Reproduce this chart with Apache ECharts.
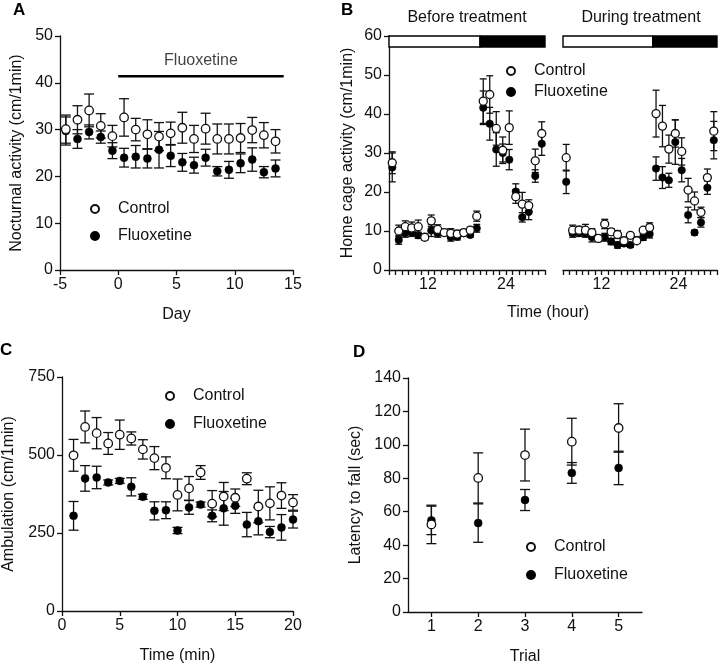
<!DOCTYPE html>
<html><head><meta charset="utf-8">
<script src="https://cdn.jsdelivr.net/npm/echarts@6/dist/echarts.min.js"></script>
<style>html,body{margin:0;padding:0;background:#fff}#c{width:720px;height:666px}</style>
</head><body><div id="c"></div>
<script>
// ---------- Panel A: nocturnal activity ----------
const aDays = [-4.5,-3.5,-2.5,-1.5,-0.5,0.5,1.5,2.5,3.5,4.5,5.5,6.5,7.5,8.5,9.5,10.5,11.5,12.5,13.5];
const aCtrl = [30.1,32.1,34.1,30.8,28.6,32.6,30.0,29.0,28.5,29.2,30.4,28.0,30.2,28.0,28.0,28.2,29.9,28.8,27.5];
const aCtrlErr = [3.0,3.0,3.5,2.6,2.3,4.0,2.4,3.1,3.0,2.4,3.3,2.9,3.3,3.2,3.2,3.1,2.7,2.7,2.5];
const aFlx = [29.7,28.0,29.5,28.4,25.5,24.0,24.2,23.8,25.7,24.4,23.0,22.4,24.0,21.1,21.4,22.8,23.6,20.9,21.7];
const aFlxErr = [3.0,2.0,1.5,1.3,1.7,2.0,2.4,2.0,3.9,2.3,1.9,1.7,1.8,1.0,1.8,2.0,2.5,1.2,1.8];
const aTreatDays = [0, 14.2];
const aTreatLevel = 41.4;
const aXTicks = {min:-5, max:15, step:5};
const aYTicks = {min:0, max:50, step:10};

// ---------- Panel B: home cage activity ----------
const bHours = [6.5,7.5,8.5,9.5,10.5,11.5,12.5,13.5,14.5,15.5,16.5,17.5,18.5,19.5,20.5,21.5,22.5,23.5,24.5,25.5,26.5,27.5,28.5,29.5];
const bPreCtrl = [27.5,10.0,11.1,10.8,11.1,8.4,12.6,10.4,9.6,9.4,9.2,9.6,10.2,13.8,43.3,45.0,36.3,30.7,36.5,18.8,16.9,16.5,28.0,35.0];
const bPreCtrlErr = [2.8,1.5,1.5,1.5,1.7,0.8,1.5,1.2,0.8,1.2,1.0,0.8,0.8,1.3,5.7,4.8,4.3,3.4,4.3,1.7,3.0,1.5,3.0,3.0];
const bPreFlx = [26.3,7.7,9.4,9.6,8.9,8.4,10.1,9.4,9.6,8.4,8.5,9.4,9.0,10.7,41.6,37.5,30.9,30.0,28.3,20.1,13.5,14.9,24.1,32.4];
const bPreFlxErr = [3.7,1.1,1.0,1.0,0.8,0.5,1.5,1.0,0.5,1.0,0.8,0.5,0.6,1.0,4.3,4.2,4.3,2.3,2.6,2.0,1.2,2.0,1.6,3.0];
const bDurCtrl = [28.8,10.2,10.2,10.2,9.6,8.1,11.8,9.8,9.1,7.5,8.9,7.5,10.2,10.9,40.1,36.9,31.0,35.0,30.4,20.5,17.7,14.8,23.7,35.6];
const bDurCtrlErr = [3.4,1.3,1.0,1.5,1.0,0.8,1.2,0.8,1.0,0.8,0.6,0.6,0.6,1.2,6.0,5.3,3.6,3.5,3.5,3.0,2.3,1.3,2.2,5.0];
const bDurFlx = [22.6,9.4,9.6,9.4,8.4,8.1,8.4,7.3,6.4,6.8,6.4,7.7,8.4,9.2,26.0,23.7,23.0,32.8,25.6,14.1,9.6,12.2,21.1,33.3];
const bDurFlxErr = [3.0,1.0,1.0,1.0,1.2,0.8,1.0,0.8,0.8,0.7,0.6,0.7,0.8,1.0,3.0,2.8,1.8,5.7,3.0,2.0,0.6,1.2,1.7,4.8];
const bPhaseStart = [6, 20];
const bPhaseEnd = [20, 30];
const bPhaseDark = [0, 1];
const bXTickLabels = [12, 24];
const bXRange = {min:6, max:30, step:1};
const bYTicks = {min:0, max:60, step:10};
const bTitles = ['Before treatment', 'During treatment'];

// ---------- Panel C: ambulation ----------
const cMin = [1,2,3,4,5,6,7,8,9,10,11,12,13,14,15,16,17,18,19,20];
const cCtrl = [499,590,570,537,565,553,518,490,459,372,393,444,344,367,363,424,335,345,370,348];
const cCtrlErr = [51,51,50,35,47,21,31,37,35,51,38,22,42,45,28,19,52,53,41,25];
const cFlx = [305,425,428,412,417,398,366,321,323,258,332,341,305,329,337,277,288,253,268,293];
const cFlxErr = [46,41,36,8,8,29,8,29,27,10,22,8,19,54,24,39,44,18,41,27];
const cXTicks = {min:0, max:20, step:5};
const cYTicks = {min:0, max:750, step:250};

// ---------- Panel D: latency to fall ----------
const dTrials = ['1','2','3','4','5'];
const dCtrl = [52.4,80.2,93.9,101.9,110.1];
const dCtrlErr = [11.5,15.0,15.5,14.0,14.5];
const dFlx = [54.8,53.2,67.0,83.2,86.2];
const dFlxErr = [8.5,11.5,6.3,6.2,10.0];
const dYTicks = {min:0, max:140, step:20};

// ---------- styling ----------
const FONT = "'Liberation Sans', Arial, Helvetica, sans-serif";
const INK = '#111';

function mkAxis(o){
  const lbl = Object.assign({color:INK, fontSize:16, fontFamily:FONT, margin:7}, o.axisLabel||{});
  const tick = Object.assign({show:true, length:5, inside:false, lineStyle:{color:INK, width:1.3}}, o.axisTick||{});
  const ax = Object.assign({}, o, {
    axisLine:{show:true, onZero:false, lineStyle:{color:INK, width:1.3}},
    axisTick: tick,
    axisLabel: lbl,
    splitLine:{show:false},
    nameLocation:'middle',
    nameTextStyle:{color:INK, fontSize:16, fontFamily:FONT}
  });
  return ax;
}

function errSeries(name, xs, ys, es, xi, capW){
  return {
    type:'custom', name:name, xAxisIndex:xi, yAxisIndex:xi, z:1, silent:true,
    data: xs.map((x,i)=>[x, ys[i]-es[i], ys[i]+es[i]]),
    encode:{x:0, y:[1,2]},
    renderItem:function(params, api){
      const x = api.value(0);
      const p1 = api.coord([x, api.value(1)]);
      const p2 = api.coord([x, api.value(2)]);
      const s = {stroke:INK, lineWidth:1.3};
      const h = capW/2;
      return {type:'group', children:[
        {type:'line', shape:{x1:p1[0], y1:p1[1], x2:p2[0], y2:p2[1]}, style:s},
        {type:'line', shape:{x1:p1[0]-h, y1:p1[1], x2:p1[0]+h, y2:p1[1]}, style:s},
        {type:'line', shape:{x1:p2[0]-h, y1:p2[1], x2:p2[0]+h, y2:p2[1]}, style:s}
      ]};
    }
  };
}
function ptSeries(name, xs, ys, xi, open, size){
  return {
    type:'scatter', name:name, xAxisIndex:xi, yAxisIndex:xi, z: open?4:3,
    symbol:'circle', symbolSize:size,
    itemStyle: open ? {color:'#fff', borderColor:INK, borderWidth:1.3, opacity:1} : {color:'#000', borderColor:'#000', borderWidth:0.5, opacity:1},
    emphasis:{disabled:true},
    data: xs.map((x,i)=>[x, ys[i]])
  };
}
function phaseSeries(xi){
  return {
    type:'custom', xAxisIndex:xi, yAxisIndex:xi, z:2, silent:true,
    data: bPhaseStart.map((s,i)=>[s, bPhaseEnd[i], bPhaseDark[i]]),
    encode:{x:[0,1]},
    renderItem:function(params, api){
      const p0 = api.coord([api.value(0), bYTicks.max]);
      const p1 = api.coord([api.value(1), bYTicks.max]);
      return {type:'rect', shape:{x:p0[0], y:p0[1], width:p1[0]-p0[0], height:11},
        style:{fill: api.value(2) ? '#000' : '#fff', stroke:'#000', lineWidth:1.4}};
    }
  };
}
function legendAt(left, top, gap){
  return {left:left, top:top, orient:'vertical', padding:0, itemWidth:36, itemHeight:8, itemGap:gap,
    selectedMode:false, data:['Control','Fluoxetine'],
    textStyle:{color:INK, fontSize:16, fontFamily:FONT}};
}

const bLabelFmt = v => bXTickLabels.indexOf(v) >= 0 ? String(v) : '';

const option = {
  animation:false,
  backgroundColor:'#fff',
  textStyle:{fontFamily:FONT},
  grid:[
    {left:60, top:36, width:233, height:234},
    {left:389, top:36, width:156, height:234},
    {left:563, top:36, width:155, height:234},
    {left:60, top:377, width:233, height:234},
    {left:408, top:378, width:234, height:234}
  ],
  xAxis:[
    mkAxis({type:'value', gridIndex:0, min:aXTicks.min, max:aXTicks.max, interval:aXTicks.step, name:'Day', nameGap:37}),
    mkAxis({type:'value', gridIndex:1, min:bXRange.min, max:bXRange.max, interval:bXRange.step, axisLabel:{formatter:bLabelFmt, showMinLabel:true, showMaxLabel:true}}),
    mkAxis({type:'value', gridIndex:2, min:bXRange.min, max:bXRange.max, interval:bXRange.step, axisLabel:{formatter:bLabelFmt, showMinLabel:true, showMaxLabel:true}}),
    mkAxis({type:'value', gridIndex:3, min:cXTicks.min, max:cXTicks.max, interval:cXTicks.step, name:'Time (min)', nameGap:37}),
    mkAxis({type:'category', gridIndex:4, data:dTrials, boundaryGap:true, axisTick:{alignWithLabel:true}, name:'Trial', nameGap:37})
  ],
  yAxis:[
    mkAxis({type:'value', gridIndex:0, min:aYTicks.min, max:aYTicks.max, interval:aYTicks.step, name:'Nocturnal activity (cm/1min)', nameGap:35}),
    mkAxis({type:'value', gridIndex:1, min:bYTicks.min, max:bYTicks.max, interval:bYTicks.step, name:'Home cage activity (cm/1min)', nameGap:33}),
    {type:'value', gridIndex:2, min:bYTicks.min, max:bYTicks.max, interval:bYTicks.step, show:false, splitLine:{show:false}},
    mkAxis({type:'value', gridIndex:3, min:cYTicks.min, max:cYTicks.max, interval:cYTicks.step, name:'Ambulation (cm/1min)', nameGap:45}),
    mkAxis({type:'value', gridIndex:4, min:dYTicks.min, max:dYTicks.max, interval:dYTicks.step, name:'Latency to fall (sec)', nameGap:44})
  ],
  legend:[
    legendAt(90, 201, 11),
    legendAt(506, 63, 5),
    legendAt(165, 388, 12),
    legendAt(526, 539, 12)
  ],
  graphic:[
    {type:'text', left:13, top:2, style:{text:'A', font:"bold 17px "+FONT, fill:'#000'}},
    {type:'text', left:341, top:2, style:{text:'B', font:"bold 17px "+FONT, fill:'#000'}},
    {type:'text', left:0, top:342, style:{text:'C', font:"bold 17px "+FONT, fill:'#000'}},
    {type:'text', left:353, top:344, style:{text:'D', font:"bold 17px "+FONT, fill:'#000'}},
    {type:'text', x:467, y:18, style:{text:bTitles[0], font:"16px "+FONT, fill:INK, textAlign:'center', textVerticalAlign:'middle'}},
    {type:'text', x:641, y:18, style:{text:bTitles[1], font:"16px "+FONT, fill:INK, textAlign:'center', textVerticalAlign:'middle'}},
    {type:'text', x:548, y:313, style:{text:'Time (hour)', font:"16px "+FONT, fill:INK, textAlign:'center', textVerticalAlign:'middle'}}
  ],
  series:[
    // A
    errSeries('errA1', aDays, aCtrl, aCtrlErr, 0, 10),
    errSeries('errA2', aDays, aFlx, aFlxErr, 0, 10),
    {type:'line', xAxisIndex:0, yAxisIndex:0, symbol:'none', silent:true, lineStyle:{color:'#000', width:2.6},
      data: aTreatDays.map(d=>[d, aTreatLevel])},
    {type:'scatter', xAxisIndex:0, yAxisIndex:0, symbolSize:0, silent:true,
      data:[[(aTreatDays[0]+aTreatDays[1])/2, aTreatLevel]],
      label:{show:true, position:'top', distance:8, formatter:'Fluoxetine', color:INK, fontSize:16, fontFamily:FONT}},
    ptSeries('Fluoxetine', aDays, aFlx, 0, false, 8),
    ptSeries('Control', aDays, aCtrl, 0, true, 8.5),
    // B before
    phaseSeries(1),
    errSeries('errB1', bHours, bPreCtrl, bPreCtrlErr, 1, 7),
    errSeries('errB2', bHours, bPreFlx, bPreFlxErr, 1, 7),
    ptSeries('Fluoxetine', bHours, bPreFlx, 1, false, 7.5),
    ptSeries('Control', bHours, bPreCtrl, 1, true, 8),
    // B during
    phaseSeries(2),
    errSeries('errB3', bHours, bDurCtrl, bDurCtrlErr, 2, 7),
    errSeries('errB4', bHours, bDurFlx, bDurFlxErr, 2, 7),
    ptSeries('Fluoxetine', bHours, bDurFlx, 2, false, 7.5),
    ptSeries('Control', bHours, bDurCtrl, 2, true, 8),
    // C
    errSeries('errC1', cMin, cCtrl, cCtrlErr, 3, 10),
    errSeries('errC2', cMin, cFlx, cFlxErr, 3, 10),
    ptSeries('Fluoxetine', cMin, cFlx, 3, false, 8),
    ptSeries('Control', cMin, cCtrl, 3, true, 8.5),
    // D
    errSeries('errD1', dTrials.map((t,i)=>i), dCtrl, dCtrlErr, 4, 10),
    errSeries('errD2', dTrials.map((t,i)=>i), dFlx, dFlxErr, 4, 10),
    ptSeries('Fluoxetine', dTrials.map((t,i)=>i), dFlx, 4, false, 8),
    ptSeries('Control', dTrials.map((t,i)=>i), dCtrl, 4, true, 8.5)
  ]
};
const chart = echarts.init(document.getElementById('c'), null, {renderer:'canvas'});
chart.setOption(option);
</script></body></html>
